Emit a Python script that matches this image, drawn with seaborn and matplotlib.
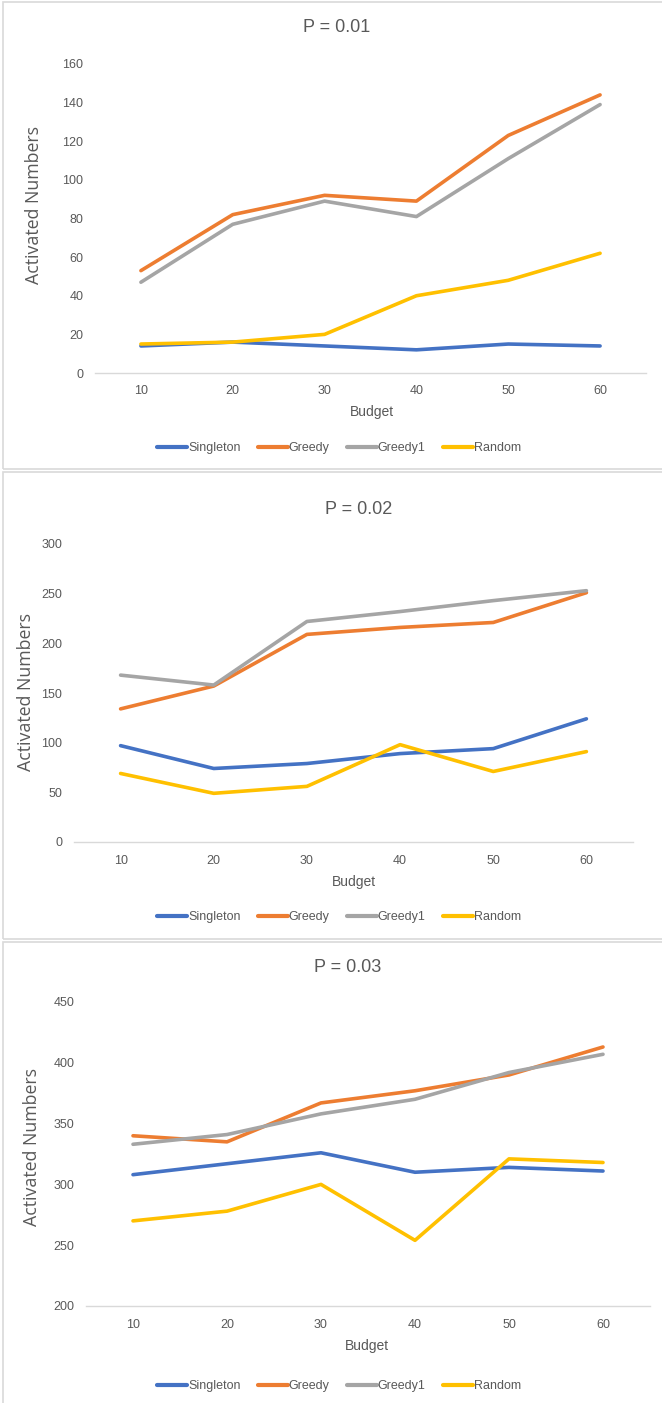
import matplotlib
matplotlib.use("Agg")
import matplotlib.pyplot as plt
import seaborn as sns
import pandas as pd
from matplotlib.patches import Rectangle

sns.set_theme(style="white")
plt.rcParams["font.family"] = ["Liberation Sans", "DejaVu Sans"]

budgets = [10, 20, 30, 40, 50, 60]
methods = ["Singleton", "Greedy", "Greedy1", "Random"]
colors = ["#4472C4", "#ED7D31", "#A5A5A5", "#FFC000"]

# P = 0.01
p01_singleton = [14, 16, 14, 12, 15, 14]
p01_greedy = [53, 82, 92, 89, 123, 144]
p01_greedy1 = [47, 77, 89, 81, 111, 139]
p01_random = [15, 16, 20, 40, 48, 62]

# P = 0.02
p02_singleton = [97, 74, 79, 89, 94, 124]
p02_greedy = [134, 157, 209, 216, 221, 251]
p02_greedy1 = [168, 158, 222, 232, 243, 253]
p02_random = [69, 49, 56, 98, 71, 91]

# P = 0.03
p03_singleton = [308, 317, 326, 310, 314, 311]
p03_greedy = [340, 335, 367, 377, 390, 413]
p03_greedy1 = [333, 341, 358, 370, 392, 407]
p03_random = [270, 278, 300, 254, 321, 318]

titles = ["P = 0.01", "P = 0.02", "P = 0.03"]
y_ranges = [(0, 160, 20), (0, 300, 50), (200, 450, 50)]

W, H = 662, 1403
fig = plt.figure(figsize=(W / 100, H / 100), dpi=100)
fig.patch.set_facecolor("white")


def fx(px):
    return px / W


def fy(py):
    return 1 - py / H


# pixel layout of each panel: plot box, title, labels, legend, frame
panels = [
    dict(box=(95, 646, 64, 373), title=(337, 27), ylab=(34, 205), xlab=(372, 412), leg=(339, 448),
         frame=(3, 2, 700, 469)),
    dict(box=(74, 633, 544, 842), title=(359, 510), ylab=(26, 692), xlab=(354, 882), leg=(339, 917),
         frame=(3, 472, 700, 939)),
    dict(box=(86, 650, 1002, 1306), title=(348, 967), ylab=(32, 1147), xlab=(367, 1346), leg=(339, 1386),
         frame=(3, 942, 700, 1450)),
]

series = [
    [p01_singleton, p01_greedy, p01_greedy1, p01_random],
    [p02_singleton, p02_greedy, p02_greedy1, p02_random],
    [p03_singleton, p03_greedy, p03_greedy1, p03_random],
]

text_gray = "#595959"

for i, lay in enumerate(panels):
    # panel frame
    x0, y0, x1, y1 = lay["frame"]
    fig.patches.append(Rectangle((fx(x0), fy(y1)), fx(x1 - x0), (y1 - y0) / H,
                                 transform=fig.transFigure, fill=False,
                                 edgecolor="#D9D9D9", linewidth=1.2, zorder=0))

    l, r, t, b = lay["box"]
    ax = fig.add_axes([fx(l), fy(b), fx(r - l), (b - t) / H])
    rows = []
    for m, vals in zip(methods, series[i]):
        for bud, v in zip(budgets, vals):
            rows.append({"Budget": bud, "Value": v, "Method": m})
    df = pd.DataFrame(rows)
    sns.lineplot(data=df, x="Budget", y="Value", hue="Method", hue_order=methods,
                 palette=colors, linewidth=2.6, ax=ax, legend=True)

    lo, hi, step = y_ranges[i]
    ax.set_ylim(lo, hi)
    ax.set_xlim(5, 65)
    ax.set_xticks(budgets)
    ax.set_yticks(list(range(lo, hi + 1, step)))
    ax.tick_params(axis="both", length=0, labelsize=9, labelcolor=text_gray)
    ax.tick_params(axis="y", pad=8.5)
    ax.tick_params(axis="x", pad=9)
    for s in ["top", "right", "left"]:
        ax.spines[s].set_visible(False)
    ax.spines["bottom"].set_color("#D9D9D9")
    ax.spines["bottom"].set_linewidth(1.0)
    ax.set_xlabel("")
    ax.set_ylabel("")
    ax.patch.set_alpha(0)

    fig.text(fx(lay["title"][0]), fy(lay["title"][1]), titles[i], ha="center", va="center",
             fontsize=13, color=text_gray)
    fig.text(fx(lay["ylab"][0]), fy(lay["ylab"][1]), "Activated Numbers", ha="center", va="center",
             rotation=90, fontsize=12.8, color=text_gray, family=["Open Sans", "DejaVu Sans"])
    fig.text(fx(lay["xlab"][0]), fy(lay["xlab"][1]), "Budget", ha="center", va="center",
             fontsize=10, color=text_gray)

    handles, labels = ax.get_legend_handles_labels()
    ax.get_legend().remove()
    leg = ax.legend(handles, labels, loc="center", bbox_to_anchor=(fx(lay["leg"][0]), fy(lay["leg"][1])),
                    bbox_transform=fig.transFigure, ncol=4, frameon=False, fontsize=9,
                    handlelength=2.4, handletextpad=0.05, columnspacing=1.4)
    for txt in leg.get_texts():
        txt.set_color(text_gray)
    for ln in leg.get_lines():
        ln.set_linewidth(3.0)

fig.savefig("out.png", dpi=100, facecolor="white")
